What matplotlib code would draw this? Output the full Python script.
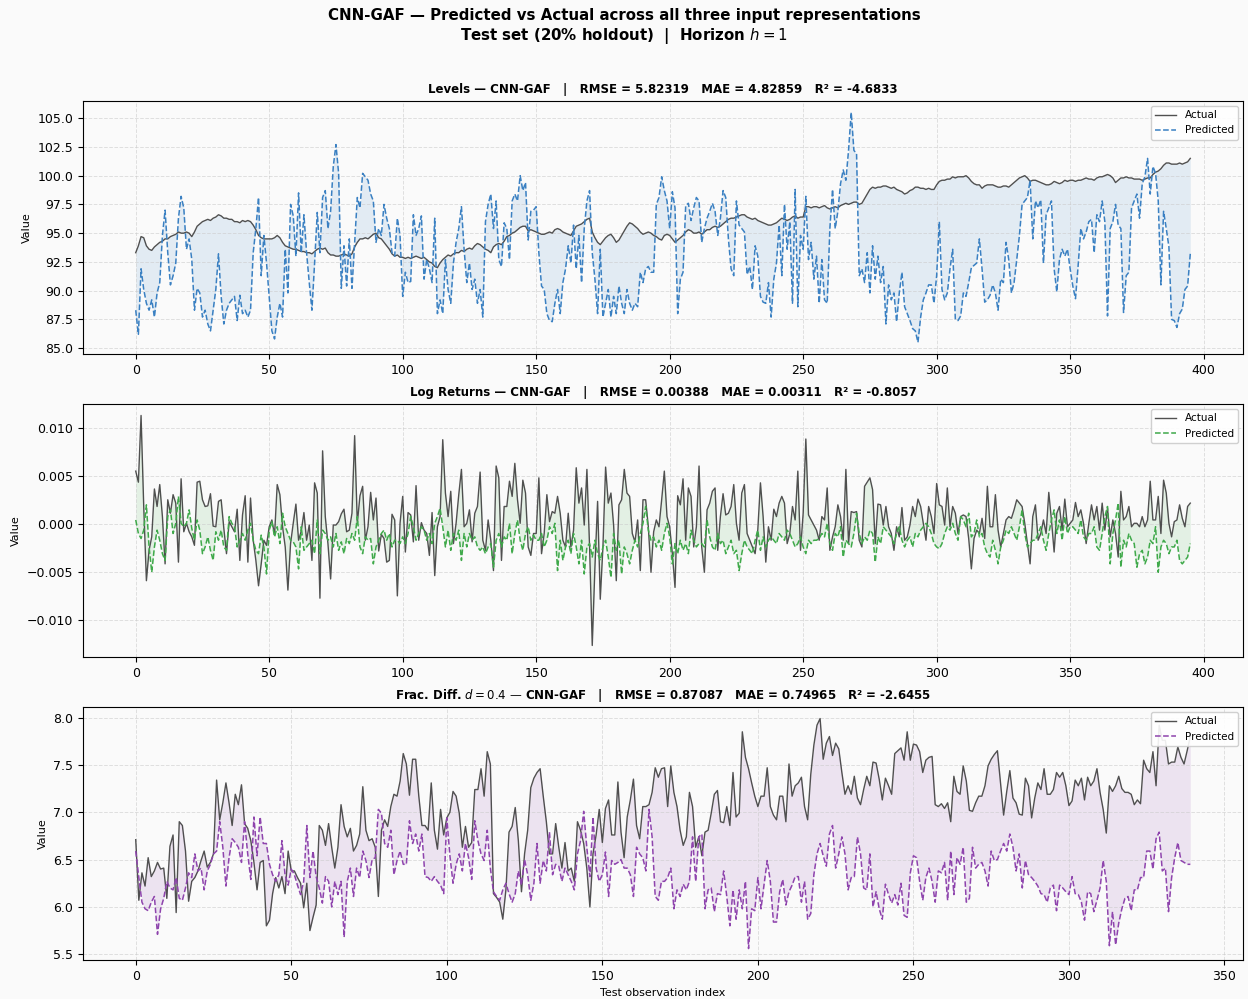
import numpy as np
import matplotlib
matplotlib.use("Agg")
import matplotlib.pyplot as plt

# ---- Levels (test set) ----
lev_actual = [
    93.3, 93.9, 94.7, 94.6, 93.9, 93.6, 93.5, 93.8, 94.0, 94.2,
    94.3, 94.5, 94.5, 94.7, 94.8, 94.9, 95.1, 95.0, 95.0, 95.1,
    95.0, 94.7, 95.1, 95.6, 95.8, 96.0, 96.1, 96.2, 96.1, 96.3,
    96.4, 96.6, 96.5, 96.3, 96.3, 96.2, 96.2, 96.0, 96.0, 95.9,
    96.1, 96.0, 96.1, 96.0, 95.7, 95.3, 94.8, 94.6, 94.5, 94.5,
    94.5, 94.5, 94.6, 94.8, 94.6, 94.2, 93.9, 93.8, 93.7, 93.6,
    93.6, 93.5, 93.4, 93.4, 93.3, 93.3, 93.2, 93.4, 93.6, 93.7,
    93.6, 93.7, 93.3, 93.1, 93.1, 93.0, 93.0, 93.1, 93.2, 93.1,
    93.0, 93.2, 93.8, 94.2, 94.5, 94.5, 94.6, 94.5, 94.7, 94.9,
    95.0, 94.6, 94.5, 94.2, 93.9, 93.6, 93.2, 93.0, 93.1, 92.9,
    92.9, 92.8, 92.9, 92.8, 92.9, 93.0, 92.9, 92.8, 92.9, 92.7,
    92.5, 92.4, 92.1, 92.0, 92.4, 92.7, 92.9, 93.1, 93.0, 93.2,
    93.3, 93.3, 93.5, 93.4, 93.6, 93.7, 93.6, 93.9, 94.1, 94.0,
    93.8, 93.6, 93.5, 93.3, 93.8, 94.0, 94.1, 94.0, 94.3, 94.7,
    94.8, 95.0, 95.1, 95.3, 95.5, 95.6, 95.6, 95.2, 95.3, 95.2,
    95.1, 95.0, 94.9, 94.9, 95.0, 95.1, 95.0, 95.3, 95.4, 95.3,
    95.1, 95.0, 94.9, 94.8, 95.2, 95.6, 95.7, 95.8, 96.0, 96.2,
    96.3, 95.1, 94.6, 94.2, 94.0, 94.3, 94.6, 94.8, 94.9, 94.6,
    94.2, 94.4, 94.8, 95.2, 95.6, 95.9, 95.8, 95.6, 95.4, 95.1,
    94.9, 95.0, 95.1, 95.0, 94.8, 94.7, 94.5, 94.4, 94.8, 94.9,
    94.8, 94.5, 94.2, 94.4, 94.6, 94.8, 95.1, 95.3, 95.2, 95.0,
    95.0, 95.1, 94.9, 95.1, 95.3, 95.3, 95.5, 95.6, 95.5, 95.6,
    95.8, 96.0, 96.2, 96.3, 96.3, 96.4, 96.5, 96.6, 96.6, 96.4,
    96.3, 96.2, 96.3, 96.1, 96.0, 95.9, 95.8, 95.7, 95.7, 95.8,
    95.9, 96.1, 96.3, 96.2, 96.1, 96.2, 96.4, 96.5, 96.3, 96.4,
    96.4, 97.3, 97.3, 97.2, 97.3, 97.3, 97.2, 97.3, 97.4, 97.2,
    97.1, 97.2, 97.3, 97.2, 97.4, 97.5, 97.6, 97.5, 97.6, 97.7,
    97.7, 97.5, 97.6, 98.0, 98.4, 98.8, 99.0, 98.9, 99.0, 99.0,
    99.1, 99.1, 99.0, 98.9, 99.0, 98.8, 98.7, 98.6, 98.4, 98.5,
    98.7, 98.8, 99.0, 99.0, 98.9, 98.9, 98.8, 98.9, 98.8, 98.8,
    99.2, 99.5, 99.6, 99.6, 99.7, 99.7, 99.9, 99.8, 99.9, 99.9,
    99.9, 100.0, 99.8, 99.5, 99.3, 99.2, 99.2, 98.9, 99.1, 99.2,
    99.2, 99.2, 99.1, 99.0, 99.0, 99.1, 99.1, 99.0, 99.2, 99.4,
    99.6, 99.8, 99.9, 100.0, 99.8, 99.5, 99.6, 99.6, 99.5, 99.4,
    99.3, 99.2, 99.2, 99.3, 99.5, 99.4, 99.3, 99.4, 99.6, 99.5,
    99.6, 99.6, 99.5, 99.6, 99.6, 99.7, 99.8, 99.7, 99.7, 99.6,
    99.8, 99.9, 99.9, 100.0, 100.1, 100.0, 99.8, 99.4, 99.6, 99.8,
    99.8, 99.9, 99.8, 99.8, 99.7, 99.7, 99.7, 99.6, 99.7, 99.8,
    99.8, 100.1, 100.3, 100.4, 100.6, 100.9, 101.1, 101.1, 101.0, 101.0,
    101.0, 101.1, 101.0, 101.1, 101.2, 101.5,
]
lev_pred = [
    88.3, 86.2, 91.9, 90.1, 88.9, 88.3, 89.2, 87.7, 89.8, 90.7,
    94.8, 97.0, 93.3, 90.5, 91.3, 92.4, 96.3, 98.2, 97.2, 93.6,
    94.5, 92.7, 88.3, 90.2, 89.8, 87.7, 88.3, 87.1, 86.5, 88.3,
    90.1, 93.2, 89.5, 87.1, 88.3, 88.9, 89.2, 89.5, 87.4, 89.6,
    88.0, 88.3, 87.7, 88.3, 93.3, 95.4, 98.1, 91.3, 94.8, 92.4,
    89.5, 86.5, 85.8, 87.7, 88.9, 87.7, 93.6, 89.8, 97.5, 96.5,
    93.0, 98.5, 93.3, 96.6, 93.3, 90.7, 88.3, 92.4, 96.8, 93.3,
    98.1, 98.7, 95.4, 96.9, 100.8, 102.7, 100.2, 90.2, 93.9, 90.4,
    94.5, 90.2, 94.2, 98.1, 97.2, 100.2, 99.9, 99.6, 98.4, 97.8,
    94.2, 95.4, 94.8, 97.5, 96.3, 95.4, 93.3, 93.0, 96.3, 94.8,
    89.5, 91.6, 90.7, 90.8, 96.6, 94.8, 95.4, 96.5, 91.0, 92.7,
    91.9, 90.7, 96.3, 88.0, 89.2, 88.0, 92.7, 90.1, 88.9, 92.4,
    94.2, 95.4, 97.3, 93.6, 90.7, 92.4, 90.1, 91.0, 88.9, 90.1,
    87.7, 96.0, 97.5, 98.4, 95.4, 97.8, 92.7, 92.1, 95.9, 95.4,
    92.7, 97.8, 98.4, 97.8, 100.0, 98.7, 99.4, 94.4, 96.9, 97.0,
    97.3, 93.3, 90.4, 90.1, 88.0, 87.4, 87.3, 88.9, 90.1, 88.0,
    90.7, 91.9, 93.9, 92.4, 95.7, 91.9, 94.8, 90.7, 95.4, 97.8,
    98.7, 93.3, 91.0, 88.0, 93.6, 87.7, 88.9, 90.1, 87.7, 89.5,
    88.0, 90.4, 88.9, 88.0, 90.1, 88.9, 88.3, 88.9, 88.6, 91.6,
    90.7, 91.9, 92.1, 91.6, 91.6, 97.5, 98.1, 99.9, 98.7, 97.8,
    95.4, 98.6, 97.2, 88.0, 91.0, 91.6, 97.4, 97.6, 96.1, 97.2,
    98.1, 97.8, 94.2, 95.4, 96.3, 96.9, 97.6, 96.9, 94.8, 96.3,
    98.7, 98.1, 94.5, 91.9, 91.3, 97.8, 95.7, 95.4, 95.1, 91.4,
    92.1, 90.1, 93.9, 93.0, 89.5, 89.0, 88.9, 90.7, 87.7, 91.0,
    92.4, 95.7, 91.3, 97.5, 93.6, 96.0, 88.9, 98.8, 88.6, 94.8,
    93.6, 98.2, 92.7, 94.2, 91.0, 93.0, 88.9, 92.7, 89.2, 88.9,
    95.4, 98.8, 95.4, 96.9, 99.3, 100.5, 99.6, 102.2, 105.5, 102.2,
    101.9, 91.3, 91.9, 90.7, 93.3, 89.8, 93.9, 91.0, 93.0, 90.7,
    92.1, 87.1, 90.5, 89.2, 89.8, 87.3, 89.8, 91.6, 88.6, 88.0,
    87.4, 86.7, 86.5, 85.5, 87.7, 89.2, 89.8, 90.5, 90.5, 88.9,
    91.3, 96.0, 90.1, 89.2, 89.8, 91.9, 93.6, 87.5, 87.4, 87.8,
    89.8, 89.5, 90.7, 92.0, 92.2, 92.4, 94.5, 91.9, 89.0, 89.2,
    89.6, 90.5, 89.8, 88.3, 91.0, 90.7, 94.2, 92.7, 89.8, 90.7,
    92.7, 94.8, 97.5, 97.8, 98.1, 99.6, 94.5, 97.8, 97.2, 97.9,
    92.4, 96.6, 97.2, 97.8, 91.9, 89.9, 92.7, 93.6, 93.0, 93.6,
    91.9, 90.4, 89.3, 92.2, 95.4, 94.5, 95.1, 96.0, 96.2, 93.3,
    96.6, 96.0, 97.8, 96.0, 87.8, 95.4, 96.0, 97.5, 95.7, 95.4,
    88.1, 91.3, 91.6, 97.2, 97.8, 98.4, 96.3, 99.3, 99.9, 101.5,
    98.4, 100.8, 100.2, 97.8, 90.5, 96.9, 95.4, 93.8, 87.5, 87.4,
    86.8, 88.0, 88.4, 90.1, 90.4, 93.2,
]

# ---- Log returns (x 1e-3) ----
lr_actual = [
    5.47, 4.32, 11.26, 1.79, -5.93, -2.77, -1.37, 3.61, 1.79, 4.07,
    0.74, -4.18, 2.49, 1.09, 3.02, 2.14, -4.0, 4.67, -0.84, 0.04,
    -0.84, -1.37, -2.25, 4.32, 4.42, 2.49, 1.79, 1.86, 3.12, -0.25,
    -0.32, 2.32, 2.49, -0.49, -3.12, 0.21, -0.32, -0.84, 1.51, -3.82,
    0.91, 2.91, -4.0, 2.67, -1.72, -3.82, -6.46, -4.18, -1.72, -2.25,
    -0.32, 0.39, -1.19, 4.07, 3.02, -0.32, -2.42, -6.91, -2.07, 0.04,
    2.04, -1.72, -0.77, 1.16, -1.72, -0.14, -3.82, 4.25, 3.19, -7.75,
    7.58, 0.74, -2.07, -5.75, -0.14, -0.14, 0.21, 1.02, 1.51, -0.84,
    -0.67, 1.09, 9.16, 0.04, 2.91, 3.89, -1.72, -0.32, 3.26, 0.39,
    2.67, -2.84, -1.12, -1.54, -4.0, -3.82, 0.98, 0.39, -7.51, 0.04,
    2.84, -2.95, 1.16, 0.91, -1.89, 3.96, -1.72, 0.11, -0.67, -1.02,
    -3.30, 1.16, -5.40, -0.32, 0.74, 8.74, 3.19, 0.74, 3.37, -2.07,
    0.04, 3.02, 5.65, -0.32, 0.04, 1.44, -1.89, 1.09, 1.79, 5.37,
    -1.72, -2.77, 0.39, -1.72, -4.88, 6.0, 4.77, -3.82, 1.79, 1.79,
    4.42, 2.84, 6.28, 2.49, 0.04, 4.53, 3.19, -2.42, -3.30, -1.02,
    -1.02, 4.77, -3.12, -1.02, 3.02, 0.21, 1.26, 1.09, 2.84, 1.09,
    -1.72, -2.42, 1.09, -2.42, -0.67, 5.82, 2.14, 3.72, -0.14, 5.65,
    -2.42, -12.67, -4.53, 2.32, -7.86, -2.42, 5.89, 2.14, 3.19, -0.14,
    -5.93, 1.96, 2.49, 5.65, 3.19, 2.84, -1.02, -1.89, 0.39, -4.88,
    2.49, 2.49, -0.32, -5.05, -0.84, 0.39, -0.32, 2.49, 5.47, 0.74,
    -0.32, -3.12, -6.63, 2.91, 1.96, 4.67, -1.72, 3.72, 2.84, -2.42,
    -0.32, 6.0, -2.42, -5.05, 1.44, 2.14, 3.37, 3.72, -2.77, 0.74,
    3.12, 0.91, 1.09, 1.79, 4.07, 0.04, -1.72, 3.19, 4.07, -1.02,
    -1.72, -2.42, -3.12, -0.67, 4.25, 0.74, -4.0, -0.32, -1.72, 1.51,
    0.74, 2.14, 2.84, 2.14, -2.07, -1.02, 1.79, 0.39, 5.47, -2.77,
    1.09, 8.81, 0.91, 0.39, -0.14, -0.67, -1.72, 0.74, 0.39, 3.72,
    -2.77, -1.37, -0.32, 1.96, 0.74, -1.72, 5.65, -2.07, 1.26, 1.16,
    1.26, -1.72, -2.42, 3.89, 4.32, 4.77, 3.54, -2.07, 2.04, 1.96,
    -0.14, 1.79, -0.32, -1.02, -2.77, -0.32, -1.37, 1.68, -1.72, -1.37,
    -0.14, 1.79, 0.74, 2.56, 1.79, 0.04, -1.72, 1.79, 0.74, -1.02,
    4.18, 1.96, 1.79, -0.14, 3.72, -0.32, 1.79, 1.09, -1.02, 0.74,
    0.91, 0.74, -1.54, -4.70, -1.54, -0.67, -1.02, 0.56, -1.54, 3.89,
    -0.32, -0.32, 3.02, -0.67, -2.42, -1.02, 0.39, 0.74, 0.56, 1.44,
    2.49, 2.14, 1.79, 0.04, -2.07, -4.18, 0.74, 1.96, -1.72, -1.02,
    0.39, -1.02, 3.26, 0.39, -2.95, 1.09, 1.79, -0.67, 2.56, -0.32,
    0.04, 0.39, 2.21, 0.74, 1.44, 0.04, -2.07, 0.04, 1.96, 0.39,
    1.79, -0.67, 2.14, -0.67, 1.61, -1.37, 0.39, -1.02, -3.47, 3.37,
    0.39, 0.74, 1.79, -0.32, 0.04, 0.04, -0.32, 0.74, -0.32, 0.39,
    4.42, 0.39, 0.39, 2.84, -1.02, 4.53, 3.19, 0.04, -1.37, 0.21,
    0.39, 1.96, 0.56, -0.32, 1.79, 2.14,
]
lr_pred = [
    0.39, -1.02, -1.54, -0.67, 1.96, -2.42, -5.05, -2.42, -0.67, -1.72,
    -3.12, -3.82, 0.74, 1.44, -1.02, 0.04, 2.84, 0.04, -0.32, 0.04,
    1.44, -0.49, -1.72, 0.39, -0.67, -3.12, -2.42, -1.37, -2.77, -3.82,
    -0.84, -1.72, -0.67, -2.42, -2.77, 0.74, 0.04, -0.32, -2.42, -1.72,
    -1.02, -1.72, -0.67, 0.04, -1.72, -2.77, -3.12, -1.19, -2.42, -5.23,
    -0.67, 0.21, -1.37, -0.32, -2.07, 1.09, -0.32, -1.02, -1.72, -1.89,
    -2.42, -4.70, -0.32, -2.77, -2.42, -2.07, -1.72, -3.12, 0.39, -3.12,
    -0.67, -1.02, -1.72, -1.37, -2.42, -1.02, -2.77, -1.89, -3.12, -1.54,
    -2.07, -1.02, -1.72, 0.74, -2.42, -3.12, -1.37, -1.72, -1.54, -4.18,
    -2.42, -1.72, -1.02, -0.67, -1.72, -1.02, -2.42, -1.72, -1.72, -2.07,
    -1.37, -2.07, -1.02, 0.74, -0.32, -1.72, -1.02, -0.32, -0.67, -1.72,
    -1.02, -2.07, 0.04, 0.74, 1.61, -0.32, -2.42, -0.67, -2.77, -1.02,
    -1.72, -0.67, -3.82, -1.02, -2.42, -1.02, -1.72, -1.37, -2.42, -2.77,
    -2.42, -3.12, -2.42, -2.07, -4.53, -1.72, -1.02, -2.42, -1.37, -1.72,
    0.04, -3.12, -1.02, 0.39, -1.72, -2.77, -1.02, -0.32, -1.72, -1.19,
    -1.72, -1.72, -1.02, -2.42, -1.72, -0.32, -1.02, 0.04, -4.88, -1.72,
    -3.82, -2.42, -1.72, -3.12, -1.02, -2.42, -4.18, -1.72, -5.23, -2.42,
    -2.07, -3.47, -1.72, -3.12, -3.82, -2.42, -1.72, -3.47, -5.58, -1.02,
    -2.77, -1.72, -5.23, -2.42, -3.12, -4.18, -2.77, -1.72, -2.42, -1.02,
    0.04, 1.79, -0.67, -1.72, -1.37, -2.42, -1.72, -2.77, -1.02, 0.04,
    -1.37, -4.18, -2.07, -3.12, -1.72, -2.77, -2.07, -3.12, -0.67, -1.72,
    -2.42, -2.07, -2.07, -2.42, 0.39, -1.37, -2.42, -2.77, -1.02, -2.07,
    -1.72, -3.12, -2.42, -1.72, -3.12, -2.77, -4.88, -3.12, -1.72, -2.42,
    -2.77, -3.12, -1.72, -0.67, -2.77, -1.37, -2.42, -1.72, -1.37, -1.72,
    -2.07, -1.02, -1.37, -1.72, -0.67, -1.02, -1.72, -2.42, -2.07, -1.37,
    -2.42, -3.12, -1.72, -2.07, -1.72, -1.72, -1.54, -1.02, -1.37, 0.04,
    -2.07, -2.77, -1.02, -1.37, -0.32, -3.47, -1.72, -2.07, -2.42, -1.02,
    1.09, -1.02, -2.07, -1.37, -1.72, -0.67, -1.02, -4.0, -1.37, -2.07,
    -0.32, -0.67, -1.02, -1.37, -2.07, -1.02, -0.32, -1.72, -2.42, -1.72,
    -1.37, -2.42, -1.02, -1.37, -0.67, -0.32, 0.04, -0.32, -1.02, -2.07,
    -2.42, -2.60, -2.07, -1.02, -0.32, -0.67, 0.04, -1.02, -1.72, 0.74,
    0.39, -0.32, 1.09, -1.37, -1.02, 0.39, -1.37, -1.02, -2.42, -3.12,
    -3.47, -1.72, -2.77, -4.18, -2.42, -1.72, -0.67, -1.02, -0.32, -1.02,
    -1.72, -0.32, 1.44, -1.02, -2.42, -2.07, -1.72, -1.72, -1.02, -0.32,
    -1.72, -2.77, -1.02, 0.39, 1.44, -1.02, 0.39, -1.72, 0.74, -1.02,
    -0.32, -0.32, -0.67, -1.02, 0.39, -1.37, -1.72, -1.02, -1.02, -0.32,
    -2.42, -2.77, -1.02, 0.74, 1.79, -4.18, -1.02, 0.39, 2.14, -4.53,
    -1.72, -2.42, -1.02, -1.72, -2.07, -4.53, -3.12, -2.77, -4.18, -3.47,
    -1.72, -2.07, -0.32, -5.05, -2.42, -1.72, -2.07, -3.12, -2.42, -2.42,
    -1.72, -3.82, -4.18, -3.82, -3.47, -2.07,
]

# ---- Fractional differencing d=0.4 ----
fd_actual = [
    6.71, 6.07, 6.36, 6.22, 6.52, 6.32, 6.38, 6.47, 6.40, 6.41,
    6.09, 6.64, 6.76, 5.94, 6.90, 6.86, 6.59, 6.06, 6.27, 6.31,
    6.38, 6.49, 6.59, 6.42, 6.47, 6.56, 7.34, 6.92, 7.10, 7.31,
    7.10, 6.86, 7.19, 7.08, 7.29, 6.88, 6.83, 6.70, 6.47, 6.18,
    6.47, 6.49, 5.80, 5.86, 6.14, 6.31, 6.20, 6.32, 6.14, 6.59,
    6.38, 6.38, 6.31, 6.25, 5.99, 6.25, 5.75, 5.89, 6.02, 6.86,
    6.81, 6.65, 6.88, 6.63, 6.41, 6.63, 7.08, 6.85, 6.74, 6.83,
    6.59, 6.65, 6.77, 7.27, 6.81, 6.70, 6.72, 6.63, 6.11, 6.81,
    6.92, 6.85, 7.06, 7.19, 7.17, 7.33, 7.62, 7.51, 7.18, 7.56,
    7.56, 7.17, 6.86, 6.86, 6.81, 7.31, 6.81, 6.61, 7.03, 6.76,
    6.94, 7.00, 7.22, 7.17, 6.99, 6.63, 6.85, 6.63, 6.68, 7.24,
    7.24, 7.46, 7.17, 7.64, 7.51, 6.14, 6.10, 6.05, 5.87, 6.18,
    6.79, 6.85, 7.05, 6.70, 6.16, 6.56, 6.81, 7.26, 7.36, 7.42,
    7.46, 7.17, 6.90, 6.56, 6.56, 6.88, 6.63, 6.41, 6.68, 6.38,
    6.41, 6.27, 6.90, 6.81, 6.67, 6.41, 6.00, 6.56, 6.76, 7.03,
    6.68, 7.04, 7.13, 6.76, 6.76, 7.32, 6.79, 6.52, 6.95, 7.13,
    7.35, 6.86, 6.72, 7.06, 7.06, 7.08, 7.21, 7.47, 7.37, 7.46,
    7.47, 7.06, 7.49, 7.21, 7.06, 6.81, 6.65, 6.74, 7.21, 7.06,
    6.63, 6.74, 6.54, 6.79, 6.81, 6.99, 7.19, 7.23, 6.90, 6.89,
    7.06, 6.86, 7.42, 6.95, 6.99, 7.85, 7.58, 7.46, 7.31, 7.17,
    7.06, 7.17, 7.17, 7.47, 7.06, 6.97, 6.92, 7.17, 7.17, 6.90,
    7.51, 7.17, 7.28, 7.31, 7.37, 7.06, 6.92, 7.40, 7.71, 7.92,
    7.99, 7.56, 7.73, 7.80, 7.60, 7.73, 7.67, 7.42, 7.19, 7.28,
    7.19, 7.38, 7.15, 7.08, 7.24, 7.38, 7.28, 7.53, 7.52, 7.35,
    7.13, 7.36, 7.28, 7.19, 7.62, 7.65, 7.68, 7.55, 7.85, 7.55,
    7.72, 7.71, 7.64, 7.42, 7.55, 7.58, 7.59, 7.08, 7.06, 7.09,
    7.04, 7.10, 6.90, 7.38, 7.22, 7.19, 7.49, 7.33, 7.02, 7.01,
    7.10, 7.17, 7.17, 7.28, 7.49, 7.56, 7.61, 7.65, 7.31, 6.97,
    7.22, 7.44, 7.15, 7.10, 6.98, 6.97, 7.36, 7.28, 6.94, 7.15,
    7.31, 7.24, 7.46, 7.19, 7.19, 7.24, 7.42, 7.37, 7.42, 7.28,
    7.07, 7.12, 7.34, 7.28, 7.36, 7.13, 7.37, 7.28, 7.33, 7.46,
    7.21, 7.03, 6.78, 7.28, 7.22, 7.28, 7.38, 7.25, 7.21, 7.21,
    7.19, 7.08, 7.13, 7.09, 7.55, 7.46, 7.42, 7.64, 7.28, 7.92,
    7.76, 7.76, 7.51, 7.53, 7.53, 7.69, 7.58, 7.51, 7.65, 7.80,
]
fd_pred = [
    6.59, 6.31, 6.05, 5.98, 5.96, 6.05, 6.11, 5.71, 5.98, 6.09,
    6.27, 6.20, 6.18, 6.31, 6.09, 6.07, 6.20, 6.36, 6.31, 6.56,
    6.38, 6.41, 6.18, 6.38, 6.45, 6.56, 6.59, 6.90, 6.63, 6.22,
    6.52, 6.72, 6.68, 6.63, 6.47, 6.90, 6.56, 6.29, 6.95, 6.54,
    6.95, 6.67, 6.67, 6.45, 6.34, 6.27, 6.34, 6.70, 6.34, 6.23,
    6.40, 6.34, 6.23, 6.13, 6.27, 6.86, 6.31, 6.59, 6.32, 6.20,
    6.04, 6.32, 6.27, 6.00, 6.27, 6.13, 6.27, 5.68, 6.27, 6.41,
    6.11, 6.41, 6.31, 6.59, 6.49, 6.31, 6.50, 6.52, 7.03, 6.99,
    6.67, 6.63, 6.81, 6.34, 6.49, 6.59, 6.45, 6.45, 6.91, 6.67,
    6.77, 6.59, 6.77, 6.32, 6.31, 6.27, 6.32, 6.27, 6.23, 6.14,
    6.94, 6.54, 6.25, 6.45, 6.56, 6.38, 6.67, 6.52, 6.29, 6.91,
    6.70, 6.56, 6.49, 6.81, 6.41, 6.16, 6.11, 6.07, 6.18, 6.25,
    6.14, 6.05, 6.14, 6.38, 6.23, 6.50, 6.34, 6.07, 6.25, 6.67,
    6.25, 6.49, 6.38, 6.79, 6.34, 6.45, 6.43, 6.27, 6.41, 6.34,
    6.27, 6.18, 6.56, 6.70, 7.01, 6.63, 6.32, 6.95, 6.41, 6.27,
    6.34, 6.58, 6.11, 6.49, 6.45, 6.47, 6.50, 6.41, 6.41, 6.34,
    6.11, 6.63, 6.56, 6.52, 6.38, 7.03, 6.74, 6.11, 6.07, 6.27,
    6.27, 6.31, 6.41, 5.98, 6.18, 6.11, 6.24, 6.18, 6.27, 6.74,
    6.27, 6.74, 6.77, 5.98, 6.18, 6.20, 5.95, 6.14, 6.13, 6.38,
    6.11, 5.80, 6.18, 5.87, 6.18, 5.98, 6.27, 5.56, 5.98, 5.96,
    6.31, 5.98, 6.24, 6.49, 6.27, 5.84, 5.84, 6.16, 6.29, 6.02,
    6.16, 6.23, 6.32, 6.32, 6.05, 6.27, 5.87, 5.93, 6.34, 6.56,
    6.67, 6.54, 6.43, 6.77, 6.86, 6.41, 6.56, 6.74, 6.56, 6.18,
    6.31, 6.32, 6.74, 6.56, 6.20, 6.18, 6.56, 6.00, 6.16, 5.98,
    5.87, 6.24, 6.13, 6.04, 6.13, 6.02, 6.25, 5.91, 5.89, 6.36,
    6.54, 6.52, 6.27, 6.07, 6.31, 6.41, 6.27, 6.05, 6.38, 6.36,
    6.47, 6.07, 6.59, 6.13, 6.52, 6.45, 6.63, 6.05, 6.09, 6.63,
    6.41, 6.45, 6.47, 6.38, 6.22, 6.59, 6.49, 6.50, 6.59, 6.67,
    6.59, 6.77, 6.63, 6.38, 6.56, 6.20, 6.49, 6.34, 6.31, 6.27,
    6.22, 6.14, 6.13, 6.05, 6.20, 6.23, 5.96, 6.23, 6.20, 6.16,
    6.13, 6.32, 6.14, 6.13, 6.05, 5.86, 6.16, 6.14, 5.95, 6.07,
    6.20, 6.49, 6.27, 5.59, 5.95, 5.60, 5.83, 5.98, 6.09, 6.11,
    5.96, 6.18, 6.18, 6.31, 6.31, 6.59, 6.59, 6.40, 6.72, 6.79,
    6.38, 6.41, 5.95, 6.31, 6.52, 6.68, 6.49, 6.47, 6.45, 6.45,
]

panels = [
    ("Levels", lev_actual, lev_pred, 1.0, "#3a80c2",
     "Levels — CNN-GAF   |   RMSE = 5.82319   MAE = 4.82859   R² = -4.6833"),
    ("Log Returns", lr_actual, lr_pred, 1e-3, "#3fa94a",
     "Log Returns — CNN-GAF   |   RMSE = 0.00388   MAE = 0.00311   R² = -0.8057"),
    ("Frac. Diff.", fd_actual, fd_pred, 1.0, "#8e44ad",
     "Frac. Diff. $d = 0.4$ — CNN-GAF   |   RMSE = 0.87087   MAE = 0.74965   R² = -2.6455"),
]

bg = "#fafafa"
fig, axes = plt.subplots(3, 1, figsize=(12.48, 9.99), dpi=100, facecolor=bg)
fig.subplots_adjust(left=0.0665, right=0.996, top=0.899, bottom=0.039, hspace=0.198)

for ax, (name, act, pred, scale, col, title) in zip(axes, panels):
    a = np.array(act) * scale
    p = np.array(pred) * scale
    x = np.arange(len(a))
    ax.set_facecolor(bg)
    ax.fill_between(x, a, p, color=col, alpha=0.12, linewidth=0)
    ax.plot(x, a, color="#333333", lw=1.0, alpha=0.85, label="Actual")
    ax.plot(x, p, color=col, lw=1.1, ls="--", label="Predicted")
    ax.set_title(title, fontsize=8.5, fontweight="bold")
    ax.set_ylabel("Value", fontsize=8)
    ax.tick_params(labelsize=9)
    ax.grid(True, ls="--", color="#cccccc", alpha=0.6, lw=0.7)
    ax.legend(loc="upper right", fontsize=7.5, framealpha=0.9)

axes[-1].set_xlabel("Test observation index", fontsize=8)

fig.suptitle("CNN-GAF — Predicted vs Actual across all three input representations\n"
             "Test set (20% holdout)  |  Horizon $h = 1$",
             fontsize=10.8, fontweight="bold", y=0.992)

fig.savefig("out.png", dpi=100, facecolor=bg)
